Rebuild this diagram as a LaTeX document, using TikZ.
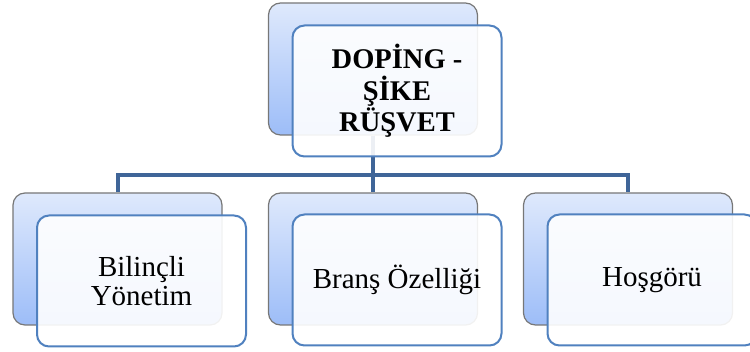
\documentclass[tikz,border=0pt]{standalone}
\usepackage{fontspec}
\setmainfont{Liberation Serif}
\definecolor{backtop}{HTML}{DFE9FC}
\definecolor{backbot}{HTML}{9DBDF8}
\definecolor{backline}{HTML}{777777}
\definecolor{frontline}{HTML}{5081BF}
\definecolor{busline}{HTML}{3F6598}

\begin{document}
\begin{tikzpicture}[x=1pt,y=-1pt,
    backbox/.style={draw=backline, line width=1.2pt, rounded corners=12pt,
      top color=backtop, bottom color=backbot,
      minimum width=209pt, minimum height=132pt, inner sep=0pt},
    frontbox/.style={draw=frontline, line width=2pt, rounded corners=12pt,
      fill=white, fill opacity=0.9, text opacity=1,
      minimum width=209pt, minimum height=131pt, inner sep=0pt,
      align=center, font=\fontsize{29}{29}\selectfont},
    bus/.style={draw=busline, line width=4pt}]
  \useasboundingbox (0,0) rectangle (750,352);

  % back boxes
  \node[backbox] (topback) at (373,69) {};
  \node[backbox] (bilincback) at (117.5,259) {};
  \node[backbox] (bransback) at (373,259) {};
  \node[backbox] (hosgorback) at (628,259) {};

  % connectors
  \coordinate (bus) at (373,175);
  \draw[bus] (topback.south) -- (bus);
  \draw[bus] (bilincback.north) |- (bus) -| (hosgorback.north);
  \draw[bus] (bus) -- (bransback.north);

  % front boxes with the texts
  \node[frontbox, font=\fontsize{28.5}{31.5}\selectfont\bfseries] (top) at (397,91)
    {DOPİNG -\\ŞİKE\\RÜŞVET};
  \node[frontbox] (bilinc) at (141.5,281) {Bilinçli\\Yönetim};
  \node[frontbox] (brans) at (397,280) {Branş Özelliği};
  \node[frontbox] (hosgor) at (652,280) {Hoşgörü};
\end{tikzpicture}
\end{document}
